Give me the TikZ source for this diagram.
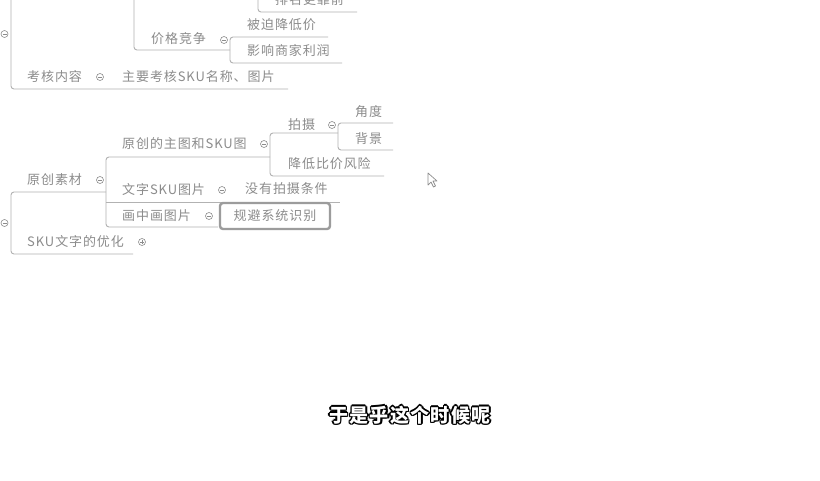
\documentclass[tikz,border=0pt]{standalone}
\usepackage{fontspec}
\newfontfamily\cjk[LetterSpace=7]{Noto Sans CJK SC}
\definecolor{tx}{HTML}{8C8C8C}
\definecolor{ln}{HTML}{B2B2B2}
\definecolor{bx}{HTML}{9C9C9C}
\newcommand\myol[1]{%
  \rlap{\kern-1.4pt\textcolor{black}{#1}}%
  \rlap{\kern1.4pt\textcolor{black}{#1}}%
  \rlap{\raisebox{1.4pt}{\textcolor{black}{#1}}}%
  \rlap{\raisebox{-1.4pt}{\textcolor{black}{#1}}}%
  \rlap{\kern-1pt\raisebox{1pt}{\textcolor{black}{#1}}}%
  \rlap{\kern1pt\raisebox{1pt}{\textcolor{black}{#1}}}%
  \rlap{\kern-1pt\raisebox{-1pt}{\textcolor{black}{#1}}}%
  \rlap{\kern1pt\raisebox{-1pt}{\textcolor{black}{#1}}}%
  \textcolor{white}{#1}}
\tikzset{
  txt/.style={font=\cjk\fontsize{13}{15}\selectfont, text=tx, anchor=west, inner sep=0pt},
  br/.style={draw=ln, line width=0.9pt, rounded corners=3pt},
  col/.style={circle, draw=tx, line width=0.6pt, minimum size=7pt, inner sep=0pt, fill=white,
    path picture={\draw[tx,line width=0.6pt] ([xshift=-2pt]path picture bounding box.center) -- ([xshift=2pt]path picture bounding box.center);}},
  expd/.style={circle, draw=tx, line width=0.6pt, minimum size=7pt, inner sep=0pt, fill=white,
    path picture={\draw[tx,line width=0.6pt] ([xshift=-2pt]path picture bounding box.center) -- ([xshift=2pt]path picture bounding box.center)
      ([yshift=-2pt]path picture bounding box.center) -- ([yshift=2pt]path picture bounding box.center);}},
  sub/.style={font=\cjk\bfseries\fontsize{19}{21}\selectfont, inner sep=0pt}
}
\begin{document}
\begin{tikzpicture}[x=1pt,y=-1pt]
\useasboundingbox[fill=white] (0,0) rectangle (820,480);

% ---------- upper part ----------
\coordinate (uTop) at (11,-5);
\coordinate (uBot) at (11,89);
\coordinate (uEnd) at (288,89);
\draw[br] (uTop) -- (uBot) -- (uEnd);

\coordinate (pTop) at (134,-5);
\coordinate (pCor) at (134,50);
\coordinate (pJ) at (230,50);
\draw[br] (pTop) -- (pCor) -- (pJ);

\coordinate (tTop) at (258,-5);
\coordinate (tCor) at (258,12);
\coordinate (tEnd) at (357,12);
\draw[br] (tTop) -- (tCor) -- (tEnd);

\coordinate (jA) at (328,37);
\coordinate (jB) at (230,37);
\coordinate (jC) at (230,63);
\coordinate (jD) at (342,63);
\draw[br] (jA) -- (jB) -- (jC) -- (jD);

\node[txt] (paiming) at (275,0) {排名更靠前};
\node[txt] (beipo) at (247,25) {被迫降低价};
\node[txt] (jiage) at (151,39) {价格竞争};
\node[txt] (yingxiang) at (247,51) {影响商家利润};
\node[txt] (kaohe) at (27,77) {考核内容};
\node[txt] (zhuyao) at (122,77) {主要考核SKU名称、图片};

\node[col] (cU) at (4.5,34) {};
\node[col] (cJiage) at (224,40) {};
\node[col] (cKaohe) at (100,77) {};

% ---------- lower part ----------
\coordinate (lA) at (106,192);
\coordinate (lB) at (11,192);
\coordinate (lC) at (11,254);
\coordinate (lD) at (133,254);
\draw[br] (lA) -- (lB) -- (lC) -- (lD);

\coordinate (mA) at (270,157);
\coordinate (mB) at (106,157);
\coordinate (mC) at (106,227);
\coordinate (mD) at (218,227);
\draw[br] (mA) -- (mB) -- (mC) -- (mD);
\coordinate (wA) at (106,202);
\coordinate (wB) at (340,202);
\draw[br] (wA) -- (wB);

\coordinate (sA) at (338,133);
\coordinate (sB) at (270,133);
\coordinate (sC) at (270,176);
\coordinate (sD) at (384,176);
\draw[br] (sA) -- (sB) -- (sC) -- (sD);

\coordinate (aA) at (393,123);
\coordinate (aB) at (338,123);
\coordinate (aC) at (338,150);
\coordinate (aD) at (393,150);
\draw[br] (aA) -- (aB) -- (aC) -- (aD);

\node[txt] (jiaodu) at (355,112) {角度};
\node[txt] (paishe) at (288,125) {拍摄};
\node[txt] (beijing) at (355,139) {背景};
\node[txt] (yuanzhu) at (122,144) {原创的主图和SKU图};
\node[txt] (jiangdi) at (288,164) {降低比价风险};
\node[txt] (yuansucai) at (27,180) {原创素材};
\node[txt] (wenzi) at (122,190) {文字SKU图片};
\node[txt] (meiyou) at (245,189) {没有拍摄条件};
\node[txt] (huazhong) at (122,216) {画中画图片};
\node[draw=bx, line width=2.4pt, rounded corners=3pt, minimum width=110pt, minimum height=26pt, inner sep=0pt] (guibi) at (275,216) {};
\node[txt, anchor=center] (guibit) at (guibi.center) {规避系统识别};
\node[txt] (skuwz) at (27,242) {SKU文字的优化};

\node[col] (cL) at (4.5,223) {};
\node[col] (cYuanzhu) at (264,144) {};
\node[col] (cPaishe) at (332,125) {};
\node[col] (cYuansucai) at (100,180) {};
\node[col] (cWenzi) at (222,190) {};
\node[col] (cHuazhong) at (209,216) {};
\node[expd] (cSku) at (142,242) {};

% ---------- mouse cursor ----------
\coordinate (m1) at (428,173);
\coordinate (m2) at (428,185);
\coordinate (m3) at (431,182);
\coordinate (m4) at (433.5,187);
\coordinate (m5) at (435.5,186);
\coordinate (m6) at (433,181);
\coordinate (m7) at (437,181);
\draw[tx, fill=white, line width=0.7pt, line join=round] (m1) -- (m2) -- (m3) -- (m4) -- (m5) -- (m6) -- (m7) -- cycle;

% ---------- subtitle ----------
\node[sub] (subt) at (410,415) {\myol{于是乎这个时候呢}};
\end{tikzpicture}
\end{document}
